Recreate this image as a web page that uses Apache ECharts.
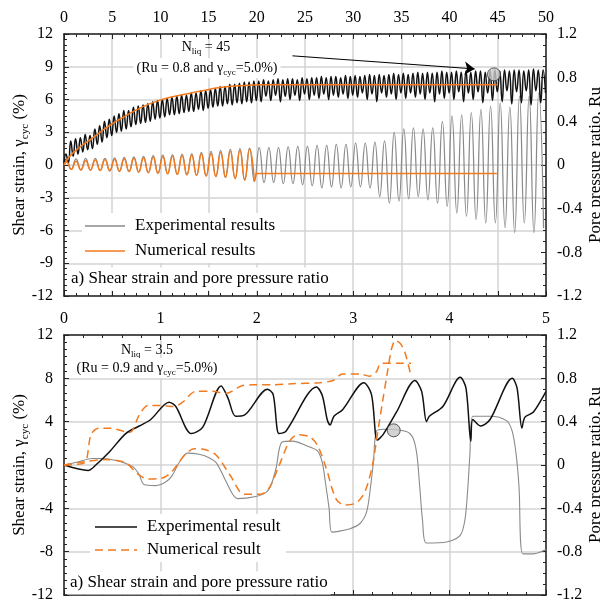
<!DOCTYPE html>
<html><head><meta charset="utf-8">
<script src="https://cdn.jsdelivr.net/npm/echarts@6/dist/echarts.min.js"></script>
<style>html,body{margin:0;padding:0;background:#fff}#c{width:600px;height:604px}</style>
</head><body><div id="c"></div>
<script>
// ================= DATA =================
// Top panel (x = number of cycles, 0..50)
// experimental shear strain (%) : positive / negative peak of each cycle
const expStrainPeakTop = [0.5,0.55,0.6,0.6,0.6,0.65,0.7,0.75,0.8,0.85, 0.9,0.95,1.0,1.05,1.15,1.25,1.35,1.45,1.5,1.55, 1.6,1.6,1.6,1.65,1.7,1.7,1.8,1.8,1.9,1.9, 2.0,2.0,2.1,2.2,3.0,3.3,3.4,3.3,3.4,4.0, 4.5,4.6,4.8,5.1,5.4,5.7,5.3,6.3,6.3,6.6];
const expStrainTroughTop = [-0.4,-0.45,-0.5,-0.5,-0.55,-0.6,-0.6,-0.65,-0.7,-0.75, -0.8,-0.85,-0.9,-0.95,-1.0,-1.05,-1.15,-1.25,-1.4,-1.5, -1.6,-1.6,-1.7,-1.7,-1.8,-1.9,-2.1,-2.0,-2.1,-2.0, -2.0,-2.1,-2.9,-3.5,-3.3,-3.1,-2.9,-3.2,-3.5,-3.8, -4.4,-4.7,-5.0,-5.3,-5.3,-5.75,-6.2,-5.3,-6.2,-5.8];
// experimental pore pressure ratio: peaks / troughs of each half cycle
const expRuPeakTop = [0.10,0.22,0.24,0.25,0.28,0.27,0.33,0.36,0.40,0.42, 0.45,0.47,0.50,0.50,0.53,0.54,0.55,0.56,0.58,0.59, 0.60,0.61,0.62,0.63,0.64,0.64,0.66,0.66,0.68,0.68, 0.69,0.70,0.72,0.72,0.74,0.74,0.75,0.76,0.76,0.77, 0.77,0.78,0.77,0.78,0.79,0.78,0.79,0.79,0.78,0.80, 0.79,0.80,0.80,0.81,0.80,0.81,0.81,0.80,0.82,0.81, 0.82,0.81,0.82,0.83,0.82,0.83,0.82,0.83,0.84,0.83, 0.84,0.83,0.84,0.85,0.84,0.85,0.84,0.85,0.86,0.85, 0.85,0.86,0.85,0.86,0.85,0.86,0.86,0.85,0.86,0.87, 0.86,0.87,0.86,0.87,0.87,0.86,0.87,0.88,0.87,0.87];
const expRuTroughTop = [0.02,0.08,0.10,0.12,0.14,0.15,0.19,0.21,0.25,0.27, 0.30,0.31,0.33,0.35,0.37,0.38,0.39,0.40,0.42,0.43, 0.44,0.46,0.46,0.47,0.48,0.49,0.49,0.51,0.50,0.52, 0.53,0.54,0.54,0.56,0.55,0.57,0.56,0.58,0.57,0.59, 0.58,0.63,0.59,0.64,0.58,0.63,0.60,0.64,0.59,0.65, 0.60,0.64,0.61,0.65,0.60,0.64,0.62,0.65,0.61,0.64, 0.62,0.66,0.60,0.65,0.58,0.66,0.62,0.65,0.60,0.66, 0.61,0.66,0.62,0.65,0.60,0.66,0.58,0.65,0.61,0.66, 0.60,0.67,0.58,0.66,0.60,0.67,0.57,0.66,0.59,0.67, 0.58,0.68,0.56,0.67,0.57,0.68,0.55,0.68,0.57,0.66];
// numerical shear strain (%) peaks / troughs, cycles 0..19, then residual value
const numStrainPeakTop = [0.3,0.35,0.4,0.45,0.5,0.5,0.55,0.6,0.65,0.7, 0.75,0.8,0.85,0.9,1.0,1.05,1.15,1.25,1.35,1.45];
const numStrainTroughTop = [-0.4,-0.45,-0.45,-0.5,-0.5,-0.55,-0.6,-0.65,-0.7,-0.75, -0.8,-0.85,-0.9,-0.95,-1.0,-1.05,-1.1,-1.25,-1.35,-1.5];
const numStrainResidualTop = [[19.95,-0.78],[44.9,-0.78]];
// numerical pore pressure ratio [cycle, Ru]
const numRuTop = [[0,0],[0.6,0.08],[1.6,0.16],[3,0.25],[4.7,0.36],[6.4,0.45],[8.1,0.53],[9.8,0.59],[11.5,0.63],[13.2,0.66],[14.9,0.69],[16.2,0.71],[18.2,0.725],[19.6,0.733],[21,0.734],[44.9,0.734]];
const liqPointTop = [44.6, 0.83];            // [cycle, Ru]
const arrowTop = [[23.7, 10.0], [42.6, 8.8]];  // [cycle, strain %]

// Bottom panel (x = number of cycles, 0..5)
const expRuBot = [[0,0],[0.25,-0.05],[0.33,0],[0.47,0.12],[0.64,0.29],[0.78,0.36],[0.9,0.42],[1.09,0.58],[1.16,0.54],[1.32,0.29],[1.44,0.35],[1.63,0.73],[1.7,0.62],[1.78,0.45],[1.87,0.46],[2.11,0.70],[2.17,0.65],[2.23,0.29],[2.3,0.31],[2.62,0.72],[2.68,0.64],[2.73,0.42],[2.76,0.37],[2.8,0.45],[2.89,0.51],[3.11,0.76],[3.19,0.65],[3.25,0.23],[3.31,0.28],[3.45,0.49],[3.64,0.78],[3.71,0.68],[3.76,0.40],[3.79,0.45],[3.93,0.54],[4.11,0.81],[4.17,0.71],[4.22,0.22],[4.24,0.42],[4.32,0.36],[4.42,0.42],[4.65,0.80],[4.70,0.71],[4.75,0.34],[4.78,0.44],[4.87,0.49],[5.0,0.68]];
const expStrainBot = [[0,0],[0.15,0.3],[0.29,0.6],[0.4,0.6],[0.55,0.4],[0.64,0.15],[0.72,-0.2],[0.78,-0.9],[0.83,-1.8],[0.95,-1.9],[1.05,-1.6],[1.12,-1.0],[1.2,0.3],[1.28,1.1],[1.4,1.0],[1.5,0.7],[1.58,0.2],[1.68,-1.5],[1.75,-2.7],[1.8,-3.1],[1.99,-2.9],[2.1,-2.5],[2.15,-1.8],[2.2,-0.3],[2.26,2.1],[2.37,2.2],[2.51,1.8],[2.63,1.3],[2.68,0.2],[2.71,-1.5],[2.75,-4.0],[2.78,-6.2],[2.96,-5.9],[3.07,-5.4],[3.14,-4.3],[3.18,-2.0],[3.21,0.3],[3.24,3.1],[3.31,3.3],[3.55,3.1],[3.62,2.5],[3.66,1.0],[3.69,-2.0],[3.72,-5.2],[3.76,-7.2],[3.97,-7.1],[4.11,-6.5],[4.16,-5.0],[4.19,-2.0],[4.21,0.9],[4.24,4.5],[4.42,4.5],[4.59,4.1],[4.65,3.1],[4.69,1.0],[4.72,-2.0],[4.76,-8.2],[4.87,-8.2],[5.0,-7.8]];
const numRuBot = [[0,0],[0.21,0.02],[0.28,0.28],[0.36,0.34],[0.47,0.34],[0.68,0.30],[0.78,0.46],[0.87,0.55],[0.99,0.55],[1.14,0.54],[1.23,0.58],[1.37,0.68],[1.54,0.68],[1.68,0.66],[1.84,0.73],[1.96,0.74],[2.17,0.74],[2.37,0.75],[2.65,0.76],[2.79,0.78],[2.89,0.84],[3.07,0.84],[3.17,0.82],[3.24,0.86],[3.29,0.94],[3.45,0.94],[3.6,0.94]];
const numStrainBot = [[0,0],[0.21,0.3],[0.43,0.5],[0.64,0.2],[0.76,-0.8],[0.87,-1.3],[1.02,-1.2],[1.12,-0.6],[1.25,0.9],[1.35,1.5],[1.47,1.4],[1.58,0.9],[1.72,-0.9],[1.87,-2.7],[2.04,-2.7],[2.13,-2.1],[2.22,-0.3],[2.34,2.2],[2.43,2.8],[2.55,2.6],[2.63,1.8],[2.72,-0.3],[2.82,-3.1],[2.91,-3.7],[3.03,-3.5],[3.12,-2.5],[3.2,0],[3.25,2.8],[3.3,5.6],[3.35,8.3],[3.4,10.8],[3.44,11.5],[3.49,11.2],[3.54,10.3],[3.6,8.2]];
const liqPointBot = [3.42, 3.2];  // [cycle, strain %]

// legend / text labels
const legendTop = ['Experimental results', 'Numerical results'];
const legendBot = ['Experimental result', 'Numerical result'];

// tick settings
const strainTopAxis = {min:-12, max:12, interval:3};
const strainBotAxis = {min:-12, max:12, interval:4};
const ruAxis = {min:-1.2, max:1.2, interval:0.4};
const cycTopAxis = {min:0, max:50, interval:5};
const cycBotAxis = {min:0, max:5, interval:1};

// ================= BUILD =================
const grayTop = [[0,0]];
expStrainPeakTop.forEach((p,i)=>{ grayTop.push([i+0.25,p]); grayTop.push([i+0.75,expStrainTroughTop[i]]); });
const blackTop = [[0,0]];
expRuPeakTop.forEach((p,k)=>{ blackTop.push([k/2+0.2,p]); blackTop.push([k/2+0.45,expRuTroughTop[k]]); });
const orangeStrTop = [[0,0]];
numStrainPeakTop.forEach((p,i)=>{ orangeStrTop.push([i+0.25,p]); orangeStrTop.push([i+0.75,numStrainTroughTop[i]]); });
const orangeResTop = [orangeStrTop[orangeStrTop.length-1]].concat(numStrainResidualTop);

const F = 'Liberation Serif';
const ORANGE = '#f27a1e', GRAY = '#8a8a8a', BLACK = '#111';
const AX = '#222', GRID = '#d3d3d3';

function xAx(grid, pos, scale, labels, split, minorN){
  return Object.assign({type:'value', gridIndex:grid, position:pos,
    axisLine:{show:true, onZero:false, lineStyle:{color:AX, width:1.5}},
    axisTick:{show:true, inside:true, length:5, lineStyle:{color:AX}},
    minorTick:{show:true, splitNumber:minorN, length:3, lineStyle:{color:AX}},
    axisLabel:{show:labels, fontFamily:F, fontSize:16, color:'#000', margin:8},
    splitLine:{show:split, lineStyle:{color:GRID, width:1.5}}}, scale);
}
function yAx(grid, pos, scale, split, minorN){
  return Object.assign({type:'value', gridIndex:grid, position:pos,
    axisLine:{show:true, onZero:false, lineStyle:{color:AX, width:1.5}},
    axisTick:{show:true, inside:true, length:5, lineStyle:{color:AX}},
    minorTick:{show:true, splitNumber:minorN, length:3, lineStyle:{color:AX}},
    axisLabel:{show:true, fontFamily:F, fontSize:16, color:'#000', margin:11},
    splitLine:{show:split, lineStyle:{color:GRID, width:1.5}}}, scale);
}
function lineS(name, xi, yi, data, color, width, smooth, dashed){
  return {name, type:'line', xAxisIndex:xi, yAxisIndex:yi, data, symbol:'none', smooth,
    lineStyle:{color, width, type: dashed ? [8,5] : 'solid'}, itemStyle:{color}, silent:true, animation:false};
}
const mainRich = (fs, sub) => ({m:{fontFamily:F, fontSize:fs, lineHeight:fs+4, color:'#000'},
                                s:{fontFamily:F, fontSize:sub, lineHeight:sub-1, verticalAlign:'bottom', color:'#000'}});
function txt(x, y, text, fs, sub, align, bg, rot){
  return {type:'text', x, y, rotation: rot||0, z:100,
    style:{text, align: align||'center', verticalAlign:'middle', rich: mainRich(fs, sub),
           font: fs+'px "'+F+'"', fill:'#000', backgroundColor: bg ? '#fff' : 'transparent', padding: bg ? [1,3,1,3] : 0}};
}
function legendBox(x, y, w, h, lx, lw, tx, rows){
  const els = [{type:'rect', shape:{x, y, width:w, height:h}, style:{fill:'#fff'}, z:90}];
  rows.forEach(r=>{
    els.push({type:'line', shape:{x1:lx, y1:r.y, x2:lx+lw, y2:r.y}, z:95,
      style:{stroke:r.color, lineWidth:1.5, lineDash: r.dashed ? [8,5] : null}});
    els.push(txt(tx, r.y, '{m|'+r.text+'}', 17, 11, 'left', false));
  });
  return els;
}

const option = {
  animation:false,
  backgroundColor:'#fff',
  grid:[{left:64, top:34, width:482, height:262}, {left:64, top:335, width:482, height:260}],
  xAxis:[xAx(0,'top',cycTopAxis,true,true,4), xAx(0,'bottom',cycTopAxis,false,false,4),
         xAx(1,'top',cycBotAxis,true,true,5), xAx(1,'bottom',cycBotAxis,false,false,5)],
  yAxis:[yAx(0,'left',strainTopAxis,true,6), yAx(0,'right',ruAxis,false,4),
         yAx(1,'left',strainBotAxis,true,6), yAx(1,'right',ruAxis,false,4)],
  series:[
    lineS(legendTop[0],0,0,grayTop,GRAY,1.25,true,false),
    lineS('exp Ru top',0,1,blackTop,BLACK,1.5,true,false),
    lineS(legendTop[1],0,0,orangeStrTop,ORANGE,1.5,true,false),
    lineS(legendTop[1],0,0,orangeResTop,ORANGE,1.5,false,false),
    lineS(legendTop[1],0,1,numRuTop,ORANGE,1.5,true,false),
    {type:'scatter', xAxisIndex:0, yAxisIndex:1, data:[liqPointTop], symbolSize:13, silent:true,
     itemStyle:{color:'#c8c8c8', borderColor:'#333', borderWidth:1}, z:10},
    {type:'line', name:'arrow', xAxisIndex:0, yAxisIndex:0, data:[], silent:true, z:12,
     markLine:{silent:true, animation:false, label:{show:false}, emphasis:{disabled:true},
       symbol:['none','arrow'], symbolSize:10,
       lineStyle:{color:'#000', width:1, type:'solid'}, itemStyle:{color:'#000'},
       data:[[{coord:arrowTop[0], symbol:'none'},{coord:arrowTop[1], symbol:'arrow', symbolSize:10}]]}},

    lineS('exp strain bottom',2,2,expStrainBot,GRAY,1.1,0.3,false),
    lineS(legendBot[0],2,3,expRuBot,BLACK,1.5,0.3,false),
    lineS(legendBot[1],2,3,numRuBot,ORANGE,1.5,0.3,true),
    lineS(legendBot[1],2,2,numStrainBot,ORANGE,1.5,0.3,true),
    {type:'scatter', xAxisIndex:2, yAxisIndex:2, data:[liqPointBot], symbolSize:13, silent:true,
     itemStyle:{color:'#c8c8c8', borderColor:'#333', borderWidth:1}, z:10}
  ],
  graphic:[].concat(
    legendBox(82, 213, 198, 50, 85, 40, 135, [{y:226, color:GRAY, text:legendTop[0]}, {y:251, color:ORANGE, text:legendTop[1]}]),
    legendBox(90, 514, 196, 48, 95, 42, 147, [{y:527, color:BLACK, text:legendBot[0]}, {y:550, color:ORANGE, text:legendBot[1], dashed:true}]),
    [
    txt(206,47,'{m|N}{s|liq}{m| = 45}',14,9,'center',false),
    txt(207,68,'{m|(Ru = 0.8 and γ}{s|cyc}{m|=5.0%)}',14,9,'center',true),
    txt(68,279,'{m|a) Shear strain and pore pressure ratio}',17,11,'left',true),
    txt(147,350,'{m|N}{s|liq}{m| = 3.5}',14,9,'center',false),
    txt(147,368,'{m|(Ru = 0.9 and γ}{s|cyc}{m|=5.0%)}',14,9,'center',true),
    txt(67,583,'{m|a) Shear strain and pore pressure ratio}',17,11,'left',true),
    txt(20,165,'{m|Shear strain, γ}{s|cyc}{m| (%)}',17,11,'center',false,Math.PI/2),
    txt(20,465,'{m|Shear strain, γ}{s|cyc}{m| (%)}',17,11,'center',false,Math.PI/2),
    txt(596,165,'{m|Pore pressure ratio, Ru}',17,11,'center',false,Math.PI/2),
    txt(596,465,'{m|Pore pressure ratio, Ru}',17,11,'center',false,Math.PI/2)
  ])
};
const chart = echarts.init(document.getElementById('c'), null, {renderer:'canvas'});
chart.setOption(option);
</script></body></html>
